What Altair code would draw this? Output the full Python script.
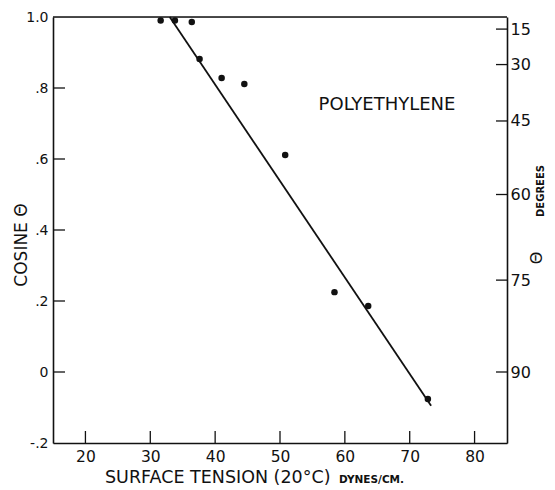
import math
import altair as alt
import pandas as pd

# ---- data ----
surface_tension = [31.6, 33.8, 36.4, 37.6, 41.0, 44.5, 50.8, 58.4, 63.6, 72.8]
cosine_theta = [0.99, 0.99, 0.986, 0.882, 0.828, 0.811, 0.611, 0.225, 0.186, -0.076]

fit_x = [33.0, 73.3]
fit_y = [1.0, -0.095]

x_ticks = [20, 30, 40, 50, 60, 70, 80]
y_ticks = [-0.2, 0.0, 0.2, 0.4, 0.6, 0.8, 1.0]
y_tick_labels = ["-.2", "0", ".2", ".4", ".6", ".8", "1.0"]
y_inner_ticks = [0.0, 0.2, 0.4, 0.6, 0.8]
deg_ticks = [15, 30, 45, 60, 75, 90]

label_text = ["POLYETHYLENE"]
label_x = [66.5]
label_y = [0.752]

FONT = "DejaVu Sans"
INK = "#111111"
W, H = 454, 426

xs = alt.Scale(domain=[15, 85], nice=False, zero=False)
ys = alt.Scale(domain=[-0.2, 1.0], nice=False, zero=False)

pts = pd.DataFrame({"st": surface_tension, "c": cosine_theta})
fit = pd.DataFrame({"st": fit_x, "c": fit_y})
xt = pd.DataFrame({"st": x_ticks})
yt = pd.DataFrame({"c": y_inner_ticks})
dt = pd.DataFrame({"deg": deg_ticks, "c": [math.cos(math.radians(d)) for d in deg_ticks]})
lab = pd.DataFrame({"t": label_text, "st": label_x, "c": label_y})

ylab_expr = " : ".join(
    f"abs(datum.value - ({v})) < 1e-6 ? '{l}'" for v, l in zip(y_ticks, y_tick_labels)
) + " : ''"

x_axis = alt.Axis(values=x_ticks, title=None, ticks=False, grid=False, labelPadding=6,
                  labelFontSize=15.5, labelFont=FONT, labelColor=INK,
                  domainColor=INK, domainWidth=1.6)
y_axis = alt.Axis(values=y_ticks, labelExpr=ylab_expr, title=None, ticks=False, grid=False,
                  labelPadding=5, labelFontSize=14, labelFont=FONT, labelColor=INK,
                  domainColor=INK, domainWidth=1.6)

X = alt.X("st:Q", scale=xs, axis=x_axis)
Y = alt.Y("c:Q", scale=ys, axis=y_axis)

points = alt.Chart(pts).mark_point(filled=True, size=42, color=INK, opacity=1).encode(x=X, y=Y)

line = alt.Chart(fit).mark_line(color=INK, strokeWidth=1.8).encode(x=X, y=Y)

xtick_rules = alt.Chart(xt).mark_rule(color=INK, strokeWidth=1.3).encode(
    x=X, y=alt.value(H), y2=alt.value(H - 12),
)

ytick_rules = alt.Chart(yt).mark_rule(color=INK, strokeWidth=1.3).encode(
    y=Y, x=alt.value(0), x2=alt.value(12),
)

poly = alt.Chart(lab).mark_text(font=FONT, fontSize=18, color=INK).encode(
    x=X, y=Y, text="t:N",
)

right_axis = alt.Axis(orient="right", values=list(dt["c"]),
                      labelExpr="round(acos(datum.value) * 180 / PI)",
                      title=None, ticks=False, grid=False, labelPadding=3,
                      labelFontSize=16, labelFont=FONT, labelColor=INK,
                      domainColor=INK, domainWidth=1.6)

rtick_rules = alt.Chart(dt).mark_rule(color=INK, strokeWidth=1.3).encode(
    y=alt.Y("c:Q", scale=ys, axis=right_axis),
    x=alt.value(W - 11), x2=alt.value(W),
)

def ann(text, px, py, size, angle=0, weight="normal", align="center"):
    return alt.Chart(pd.DataFrame({"t": [text]})).mark_text(
        font=FONT, fontSize=size, color=INK, angle=angle, fontWeight=weight,
        align=align, baseline="middle",
    ).encode(text="t:N", x=alt.value(px), y=alt.value(py))

top_border = alt.Chart(pd.DataFrame({"t": [0]})).mark_rule(color=INK, strokeWidth=1.6).encode(
    x=alt.value(0), x2=alt.value(W), y=alt.value(0)
)

# axis titles (positions relative to plot origin)
t_cos = ann("COSINE  Θ", -31, 228, 17, angle=270)
t_st = ann("SURFACE TENSION (20°C)", 52, 461, 17.5, align="left")
t_dyn = ann("DYNES/CM.", 286, 463, 10.5, weight="bold", align="left")
t_theta_r = ann("Θ", 484, 241, 16, angle=270)
t_deg = ann("DEGREES", 488, 174, 10, angle=270, weight="bold")

left_layer = alt.layer(points, line, xtick_rules, ytick_rules, poly, top_border,
                       t_cos, t_st, t_dyn, t_theta_r, t_deg)

chart = alt.layer(left_layer, rtick_rules).resolve_scale(y="independent").properties(
    width=W, height=H,
    autosize=alt.AutoSizeParams(type="none"),
    padding={"left": 45, "top": 9, "right": 40, "bottom": 47},
).configure_view(stroke=None).configure(background="white")

chart.save("out.html", embed_options={"renderer": "svg", "actions": False})
